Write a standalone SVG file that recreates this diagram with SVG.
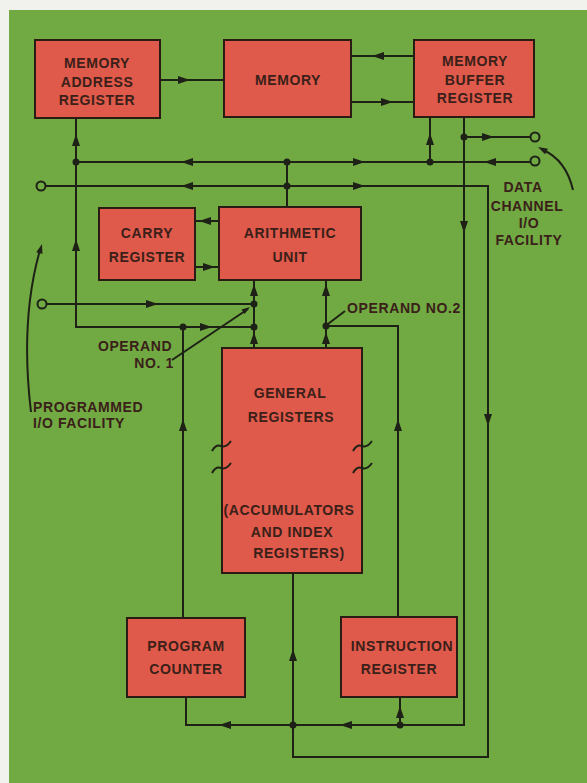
<svg xmlns="http://www.w3.org/2000/svg" xmlns:xlink="http://www.w3.org/1999/xlink" width="587" height="783" viewBox="0 0 587 783">
<defs>
<style>
.box{fill:#df5a4a;stroke:#2a1c14;stroke-width:2}
.ln{fill:none;stroke:#1e2216;stroke-width:2}
.t{font-family:"Liberation Sans",Arial,sans-serif;font-size:14px;font-weight:bold;fill:#3a2019;text-anchor:middle;letter-spacing:0.6px}
.tl{text-anchor:start}
.dot{fill:#1e2216}
.term{fill:#71a943;stroke:#1e2216;stroke-width:2}
.ar{fill:#1e2216}
</style>
<path id="a" d="M0,0 L-12,-4 L-12,4 Z"/>
</defs>
<rect x="0" y="0" width="587" height="783" fill="#f1f1ee"/>
<rect x="9" y="10" width="578" height="773" fill="#71a943"/>

<g id="connectors">
<path class="ln" d="M161,80 H224"/>
<use href="#a" class="ar" transform="translate(190,80)"/>
<path class="ln" d="M351,56 H414"/>
<use href="#a" class="ar" transform="translate(372,56) rotate(180)"/>
<path class="ln" d="M351,102 H414"/>
<use href="#a" class="ar" transform="translate(393,102)"/>
<path class="ln" d="M76,118 V327 H254"/>
<use href="#a" class="ar" transform="translate(76,134) rotate(-90)"/>
<use href="#a" class="ar" transform="translate(76,239) rotate(-90)"/>
<use href="#a" class="ar" transform="translate(212,327)"/>
<path class="ln" d="M76,162 H530"/>
<use href="#a" class="ar" transform="translate(181,162) rotate(180)"/>
<use href="#a" class="ar" transform="translate(365,162)"/>
<use href="#a" class="ar" transform="translate(484,162) rotate(180)"/>
<path class="ln" d="M430,117 V162"/>
<use href="#a" class="ar" transform="translate(430,133) rotate(-90)"/>
<path class="ln" d="M464,117 V725 H186 V697"/>
<path class="ln" d="M464,137 H530"/>
<use href="#a" class="ar" transform="translate(494,137)"/>
<use href="#a" class="ar" transform="translate(464,233) rotate(90)"/>
<use href="#a" class="ar" transform="translate(219,725) rotate(180)"/>
<use href="#a" class="ar" transform="translate(340,725) rotate(180)"/>
<path class="ln" d="M400,725 V697"/>
<use href="#a" class="ar" transform="translate(400,706) rotate(-90)"/>
<path class="ln" d="M45,186 H488 V757 H293 V573"/>
<use href="#a" class="ar" transform="translate(181,186) rotate(180)"/>
<use href="#a" class="ar" transform="translate(365,186)"/>
<use href="#a" class="ar" transform="translate(488,426) rotate(90)"/>
<use href="#a" class="ar" transform="translate(293,649) rotate(-90)"/>
<path class="ln" d="M287,162 V207"/>
<path class="ln" d="M195,221 H219"/>
<use href="#a" class="ar" transform="translate(199,221) rotate(180)"/>
<path class="ln" d="M195,267 H219"/>
<use href="#a" class="ar" transform="translate(215,267)"/>
<path class="ln" d="M254,280 V348"/>
<use href="#a" class="ar" transform="translate(254,284) rotate(-90)"/>
<use href="#a" class="ar" transform="translate(254,332) rotate(-90)"/>
<path class="ln" d="M45,304 H254"/>
<use href="#a" class="ar" transform="translate(158,304)"/>
<path class="ln" d="M326,280 V348"/>
<use href="#a" class="ar" transform="translate(326,284) rotate(-90)"/>
<use href="#a" class="ar" transform="translate(326,332) rotate(-90)"/>
<path class="ln" d="M326,326 H398 V617"/>
<use href="#a" class="ar" transform="translate(398,419) rotate(-90)"/>
<path class="ln" d="M183,327 V618"/>
<use href="#a" class="ar" transform="translate(183,419) rotate(-90)"/>
<circle class="dot" cx="76" cy="162" r="3.5"/>
<circle class="dot" cx="287" cy="162" r="3.5"/>
<circle class="dot" cx="430" cy="162" r="3.5"/>
<circle class="dot" cx="464" cy="137" r="3.5"/>
<circle class="dot" cx="287" cy="186" r="3.5"/>
<circle class="dot" cx="254" cy="304" r="3.5"/>
<circle class="dot" cx="254" cy="327" r="3.5"/>
<circle class="dot" cx="183" cy="327" r="3.5"/>
<circle class="dot" cx="326" cy="326" r="3.5"/>
<circle class="dot" cx="293" cy="725" r="3.5"/>
<circle class="dot" cx="400" cy="725" r="3.5"/>
<circle class="term" cx="535" cy="137" r="4.5"/>
<circle class="term" cx="535" cy="161" r="4.5"/>
<circle class="term" cx="41" cy="186" r="4.5"/>
<circle class="term" cx="42" cy="304" r="4.5"/>
<path class="ln" stroke-width="1.5" d="M172,360 L248,309"/>
<use href="#a" class="ar" transform="translate(250,307) rotate(-34) scale(0.7)"/>
<path class="ln" stroke-width="1.5" d="M328,324 L345,311"/>
<path class="ln" stroke-width="1.5" d="M31,412 Q20,320 40,250"/>
<use href="#a" class="ar" transform="translate(42,244) rotate(-74) scale(0.8)"/>
<path class="ln" stroke-width="1.5" d="M573,190 Q566,160 543,150"/>
<use href="#a" class="ar" transform="translate(538,147) rotate(-152) scale(0.8)"/>
</g>

<g id="mar">
<rect class="box" x="35" y="40" width="125" height="78"/>
<text class="t" x="97" y="68">MEMORY</text>
<text class="t" x="97" y="87">ADDRESS</text>
<text class="t" x="97" y="105">REGISTER</text>
</g>
<g id="memory">
<rect class="box" x="224" y="40" width="127" height="77"/>
<text class="t" x="288" y="85">MEMORY</text>
</g>
<g id="mbr">
<rect class="box" x="414" y="40" width="120" height="77"/>
<text class="t" x="475" y="66">MEMORY</text>
<text class="t" x="475" y="85">BUFFER</text>
<text class="t" x="475" y="103">REGISTER</text>
</g>
<g id="carry">
<rect class="box" x="99" y="208" width="96" height="72"/>
<text class="t" x="147" y="238">CARRY</text>
<text class="t" x="147" y="262">REGISTER</text>
</g>
<g id="au">
<rect class="box" x="219" y="207" width="142" height="73"/>
<text class="t" x="290" y="238">ARITHMETIC</text>
<text class="t" x="290" y="262">UNIT</text>
</g>
<g id="gr">
<rect class="box" x="222" y="348" width="140" height="225"/>
<text class="t" x="290" y="398">GENERAL</text>
<text class="t" x="291" y="422">REGISTERS</text>
<text class="t" x="289" y="515">(ACCUMULATORS</text>
<text class="t" x="292" y="537">AND INDEX</text>
<text class="t" x="299" y="558">REGISTERS)</text>
<path class="ln" stroke-width="1.5" d="M212,451 q4,-7 9,-5 t10,-5"/>
<path class="ln" stroke-width="1.5" d="M212,473 q4,-7 9,-5 t10,-5"/>
<path class="ln" stroke-width="1.5" d="M353,451 q4,-7 9,-5 t10,-5"/>
<path class="ln" stroke-width="1.5" d="M353,473 q4,-7 9,-5 t10,-5"/>
</g>
<g id="pc">
<rect class="box" x="127" y="618" width="118" height="79"/>
<text class="t" x="186" y="651">PROGRAM</text>
<text class="t" x="186" y="674">COUNTER</text>
</g>
<g id="ir">
<rect class="box" x="341" y="617" width="116" height="80"/>
<text class="t" x="402" y="651" letter-spacing="0.2">INSTRUCTION</text>
<text class="t" x="399" y="674">REGISTER</text>
</g>
<g id="labels">
<text class="t" x="404" y="313">OPERAND NO.2</text>
<text class="t" x="135" y="351">OPERAND</text>
<text class="t" x="154" y="368">NO. 1</text>
<text class="t tl" x="33" y="412">PROGRAMMED</text>
<text class="t tl" x="33" y="428">I/O FACILITY</text>
<text class="t" x="523" y="192">DATA</text>
<text class="t" x="527" y="211">CHANNEL</text>
<text class="t" x="529" y="228">I/O</text>
<text class="t" x="529" y="245">FACILITY</text>
</g>
</svg>
